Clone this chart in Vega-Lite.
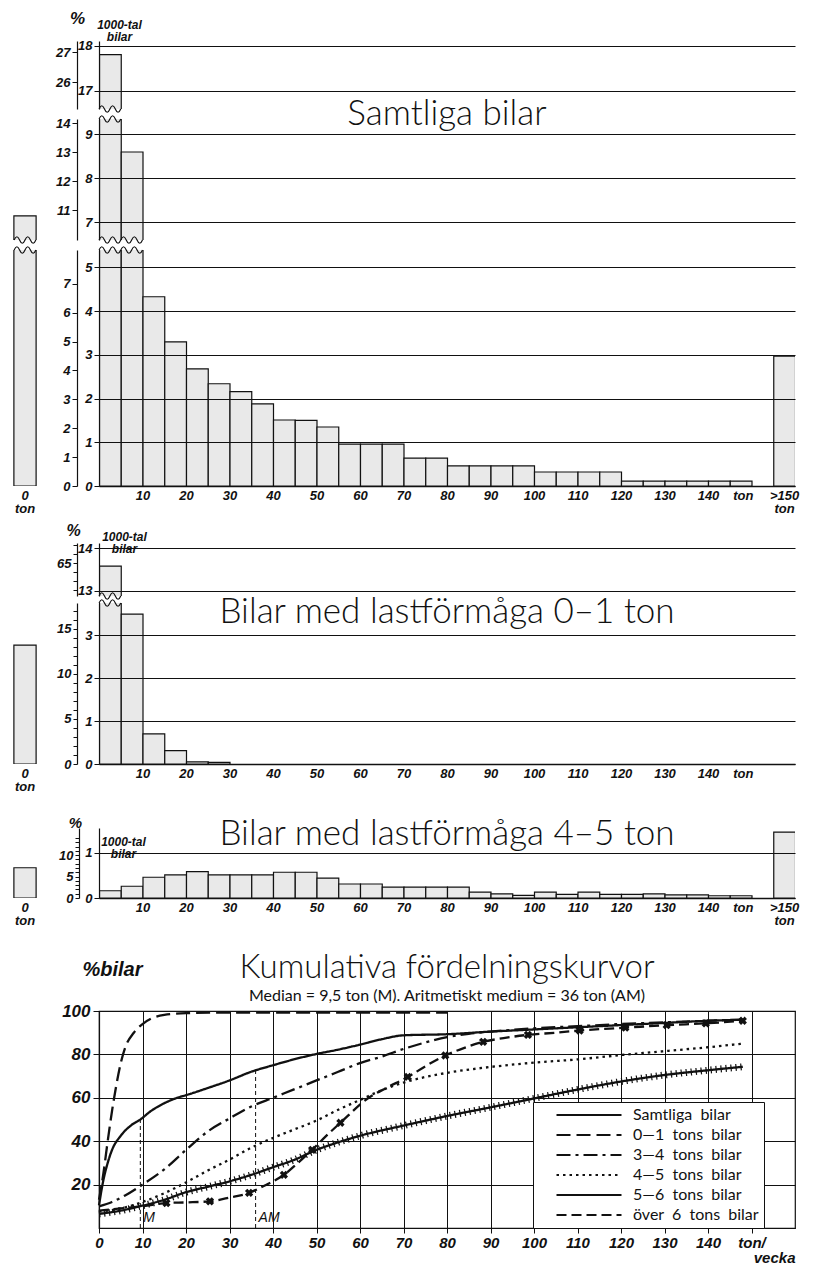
{
"$schema": "https://vega.github.io/schema/vega-lite/v6.json",
"background": "white",
"padding": {"left": 11, "top": 9, "right": 5, "bottom": 5},
"config": {
  "view": {"stroke": null},
  "axis": {"labelFont": "Liberation Sans", "labelFontStyle": "italic", "labelFontWeight": "bold", "labelColor": "#111",
           "titleFont": "Liberation Sans", "titleFontStyle": "italic", "titleFontWeight": "bold", "titleColor": "#111",
           "domainColor": "#111", "tickColor": "#111", "gridColor": "#111", "gridOpacity": 1, "labelOverlap": false, "labelFlush": false}
},
"datasets": {
  "one": [{"k": 1}],
  "p1": [
    {"lo":0,"hi":5,"v":17.8},{"lo":5,"hi":10,"v":8.6},{"lo":10,"hi":15,"v":4.33},{"lo":15,"hi":20,"v":3.3},
    {"lo":20,"hi":25,"v":2.68},{"lo":25,"hi":30,"v":2.34},{"lo":30,"hi":35,"v":2.16},{"lo":35,"hi":40,"v":1.88},
    {"lo":40,"hi":45,"v":1.51},{"lo":45,"hi":50,"v":1.5},{"lo":50,"hi":55,"v":1.35},{"lo":55,"hi":60,"v":0.96},
    {"lo":60,"hi":65,"v":0.96},{"lo":65,"hi":70,"v":0.96},{"lo":70,"hi":75,"v":0.64},{"lo":75,"hi":80,"v":0.64},
    {"lo":80,"hi":85,"v":0.46},{"lo":85,"hi":90,"v":0.46},{"lo":90,"hi":95,"v":0.46},{"lo":95,"hi":100,"v":0.46},
    {"lo":100,"hi":105,"v":0.32},{"lo":105,"hi":110,"v":0.32},{"lo":110,"hi":115,"v":0.32},{"lo":115,"hi":120,"v":0.32},
    {"lo":120,"hi":125,"v":0.11},{"lo":125,"hi":130,"v":0.11},{"lo":130,"hi":135,"v":0.11},{"lo":135,"hi":140,"v":0.11},
    {"lo":140,"hi":145,"v":0.11},{"lo":145,"hi":150,"v":0.11},{"lo":155,"hi":160,"v":2.97}
  ],
  "p1z": [{"cat":"0 ton","v":7.15}],
  "p2": [
    {"lo":0,"hi":5,"v":13.58},{"lo":5,"hi":10,"v":3.49},{"lo":10,"hi":15,"v":0.7},{"lo":15,"hi":20,"v":0.31},
    {"lo":20,"hi":25,"v":0.05},{"lo":25,"hi":30,"v":0.04}
  ],
  "p2z": [{"cat":"0 ton","v":2.77}],
  "p3": [
    {"lo":0,"hi":5,"v":0.16},{"lo":5,"hi":10,"v":0.26},{"lo":10,"hi":15,"v":0.46},{"lo":15,"hi":20,"v":0.51},
    {"lo":20,"hi":25,"v":0.585},{"lo":25,"hi":30,"v":0.51},{"lo":30,"hi":35,"v":0.51},{"lo":35,"hi":40,"v":0.51},
    {"lo":40,"hi":45,"v":0.57},{"lo":45,"hi":50,"v":0.57},{"lo":50,"hi":55,"v":0.44},{"lo":55,"hi":60,"v":0.31},
    {"lo":60,"hi":65,"v":0.31},{"lo":65,"hi":70,"v":0.24},{"lo":70,"hi":75,"v":0.24},{"lo":75,"hi":80,"v":0.24},
    {"lo":80,"hi":85,"v":0.24},{"lo":85,"hi":90,"v":0.13},{"lo":90,"hi":95,"v":0.09},{"lo":95,"hi":100,"v":0.06},
    {"lo":100,"hi":105,"v":0.13},{"lo":105,"hi":110,"v":0.08},{"lo":110,"hi":115,"v":0.13},{"lo":115,"hi":120,"v":0.08},
    {"lo":120,"hi":125,"v":0.08},{"lo":125,"hi":130,"v":0.09},{"lo":130,"hi":135,"v":0.07},{"lo":135,"hi":140,"v":0.07},
    {"lo":140,"hi":145,"v":0.05},{"lo":145,"hi":150,"v":0.05},{"lo":155,"hi":160,"v":1.46}
  ],
  "p3z": [{"cat":"0 ton","v":0.67}],
  "cum": [
    {"series":"Samtliga bilar","ton":0,"pct":10.5},{"series":"Samtliga bilar","ton":1,"pct":22},{"series":"Samtliga bilar","ton":2,"pct":30},
    {"series":"Samtliga bilar","ton":3,"pct":36},{"series":"Samtliga bilar","ton":5,"pct":42.5},{"series":"Samtliga bilar","ton":7.5,"pct":47.5},
    {"series":"Samtliga bilar","ton":9.5,"pct":50},{"series":"Samtliga bilar","ton":12,"pct":54},{"series":"Samtliga bilar","ton":15,"pct":57.5},
    {"series":"Samtliga bilar","ton":18,"pct":60},{"series":"Samtliga bilar","ton":20,"pct":61.2},{"series":"Samtliga bilar","ton":25,"pct":64.5},
    {"series":"Samtliga bilar","ton":30,"pct":68},{"series":"Samtliga bilar","ton":35,"pct":72},{"series":"Samtliga bilar","ton":40,"pct":75},
    {"series":"Samtliga bilar","ton":45,"pct":77.8},{"series":"Samtliga bilar","ton":50,"pct":80.2},{"series":"Samtliga bilar","ton":55,"pct":82.2},
    {"series":"Samtliga bilar","ton":60,"pct":84.5},{"series":"Samtliga bilar","ton":65,"pct":87},{"series":"Samtliga bilar","ton":70,"pct":88.8},
    {"series":"Samtliga bilar","ton":80,"pct":89.3},{"series":"Samtliga bilar","ton":90,"pct":90.5},{"series":"Samtliga bilar","ton":100,"pct":91.5},
    {"series":"Samtliga bilar","ton":110,"pct":92.5},{"series":"Samtliga bilar","ton":120,"pct":93.5},{"series":"Samtliga bilar","ton":130,"pct":94.5},
    {"series":"Samtliga bilar","ton":140,"pct":95.5},{"series":"Samtliga bilar","ton":148,"pct":96},
    {"series":"0—1 tons bilar","ton":0,"pct":13},{"series":"0—1 tons bilar","ton":1,"pct":25},{"series":"0—1 tons bilar","ton":2,"pct":40},
    {"series":"0—1 tons bilar","ton":3,"pct":54},{"series":"0—1 tons bilar","ton":4,"pct":66},{"series":"0—1 tons bilar","ton":5,"pct":76},
    {"series":"0—1 tons bilar","ton":6,"pct":83},{"series":"0—1 tons bilar","ton":8,"pct":90},{"series":"0—1 tons bilar","ton":10,"pct":94},
    {"series":"0—1 tons bilar","ton":12,"pct":96.5},{"series":"0—1 tons bilar","ton":15,"pct":98.2},{"series":"0—1 tons bilar","ton":20,"pct":99},
    {"series":"0—1 tons bilar","ton":30,"pct":99.3},{"series":"0—1 tons bilar","ton":50,"pct":99.3},{"series":"0—1 tons bilar","ton":80,"pct":99.3},
    {"series":"3—4 tons bilar","ton":0,"pct":10},{"series":"3—4 tons bilar","ton":3,"pct":12},{"series":"3—4 tons bilar","ton":6,"pct":15},
    {"series":"3—4 tons bilar","ton":10,"pct":20},{"series":"3—4 tons bilar","ton":15,"pct":27},{"series":"3—4 tons bilar","ton":20,"pct":36},
    {"series":"3—4 tons bilar","ton":25,"pct":44.5},{"series":"3—4 tons bilar","ton":30,"pct":50.5},{"series":"3—4 tons bilar","ton":35,"pct":56},
    {"series":"3—4 tons bilar","ton":40,"pct":60},{"series":"3—4 tons bilar","ton":45,"pct":64},{"series":"3—4 tons bilar","ton":50,"pct":68},
    {"series":"3—4 tons bilar","ton":55,"pct":72},{"series":"3—4 tons bilar","ton":60,"pct":76},{"series":"3—4 tons bilar","ton":65,"pct":79},
    {"series":"3—4 tons bilar","ton":70,"pct":82.5},{"series":"3—4 tons bilar","ton":75,"pct":85.5},{"series":"3—4 tons bilar","ton":80,"pct":88},
    {"series":"3—4 tons bilar","ton":85,"pct":89.5},{"series":"3—4 tons bilar","ton":90,"pct":90.5},{"series":"3—4 tons bilar","ton":100,"pct":92},
    {"series":"3—4 tons bilar","ton":110,"pct":93},{"series":"3—4 tons bilar","ton":120,"pct":94},{"series":"3—4 tons bilar","ton":130,"pct":94.8},
    {"series":"3—4 tons bilar","ton":140,"pct":95.5},{"series":"3—4 tons bilar","ton":148,"pct":96},
    {"series":"4—5 tons bilar","ton":0,"pct":7.5},{"series":"4—5 tons bilar","ton":5,"pct":9},{"series":"4—5 tons bilar","ton":10,"pct":12},
    {"series":"4—5 tons bilar","ton":15,"pct":16},{"series":"4—5 tons bilar","ton":20,"pct":21},{"series":"4—5 tons bilar","ton":25,"pct":26.5},
    {"series":"4—5 tons bilar","ton":30,"pct":31.5},{"series":"4—5 tons bilar","ton":35,"pct":37},{"series":"4—5 tons bilar","ton":40,"pct":41.5},
    {"series":"4—5 tons bilar","ton":45,"pct":45.5},{"series":"4—5 tons bilar","ton":50,"pct":49.5},{"series":"4—5 tons bilar","ton":55,"pct":54.5},
    {"series":"4—5 tons bilar","ton":60,"pct":59},{"series":"4—5 tons bilar","ton":65,"pct":63.5},{"series":"4—5 tons bilar","ton":70,"pct":67},
    {"series":"4—5 tons bilar","ton":80,"pct":71.5},{"series":"4—5 tons bilar","ton":90,"pct":74.2},{"series":"4—5 tons bilar","ton":100,"pct":76.2},
    {"series":"4—5 tons bilar","ton":110,"pct":77.7},{"series":"4—5 tons bilar","ton":120,"pct":79.7},{"series":"4—5 tons bilar","ton":130,"pct":81.5},
    {"series":"4—5 tons bilar","ton":140,"pct":83.3},{"series":"4—5 tons bilar","ton":148,"pct":85},
    {"series":"5—6 tons bilar","ton":0,"pct":6.5},{"series":"5—6 tons bilar","ton":5,"pct":8},{"series":"5—6 tons bilar","ton":10,"pct":10.3},
    {"series":"5—6 tons bilar","ton":15,"pct":13},{"series":"5—6 tons bilar","ton":20,"pct":16.5},{"series":"5—6 tons bilar","ton":25,"pct":19},
    {"series":"5—6 tons bilar","ton":30,"pct":21.5},{"series":"5—6 tons bilar","ton":35,"pct":24.5},{"series":"5—6 tons bilar","ton":40,"pct":28},
    {"series":"5—6 tons bilar","ton":45,"pct":31.5},{"series":"5—6 tons bilar","ton":50,"pct":36},{"series":"5—6 tons bilar","ton":55,"pct":39.5},
    {"series":"5—6 tons bilar","ton":60,"pct":42.5},{"series":"5—6 tons bilar","ton":70,"pct":47.2},{"series":"5—6 tons bilar","ton":80,"pct":51.6},
    {"series":"5—6 tons bilar","ton":90,"pct":55.6},{"series":"5—6 tons bilar","ton":100,"pct":59.7},{"series":"5—6 tons bilar","ton":110,"pct":63.8},
    {"series":"5—6 tons bilar","ton":120,"pct":67.5},{"series":"5—6 tons bilar","ton":130,"pct":70.5},{"series":"5—6 tons bilar","ton":140,"pct":72.7},
    {"series":"5—6 tons bilar","ton":148,"pct":74.3},
    {"series":"över 6 tons bilar","ton":0,"pct":8},{"series":"över 6 tons bilar","ton":5,"pct":9},{"series":"över 6 tons bilar","ton":10,"pct":10},
    {"series":"över 6 tons bilar","ton":15.5,"pct":11.5},{"series":"över 6 tons bilar","ton":20,"pct":11.8},{"series":"över 6 tons bilar","ton":25.5,"pct":12.3},
    {"series":"över 6 tons bilar","ton":30,"pct":14},{"series":"över 6 tons bilar","ton":34.5,"pct":16.2},{"series":"över 6 tons bilar","ton":38,"pct":19.5},
    {"series":"över 6 tons bilar","ton":42.5,"pct":24.5},{"series":"över 6 tons bilar","ton":46,"pct":30.5},{"series":"över 6 tons bilar","ton":49,"pct":36},
    {"series":"över 6 tons bilar","ton":52,"pct":42},{"series":"över 6 tons bilar","ton":55.5,"pct":48.5},{"series":"över 6 tons bilar","ton":62,"pct":60},
    {"series":"över 6 tons bilar","ton":66,"pct":64.5},{"series":"över 6 tons bilar","ton":71,"pct":69.6},{"series":"över 6 tons bilar","ton":75,"pct":74.5},
    {"series":"över 6 tons bilar","ton":79.6,"pct":79.5},{"series":"över 6 tons bilar","ton":84,"pct":83},{"series":"över 6 tons bilar","ton":88.3,"pct":85.8},
    {"series":"över 6 tons bilar","ton":93,"pct":87.5},{"series":"över 6 tons bilar","ton":98.6,"pct":89},{"series":"över 6 tons bilar","ton":105,"pct":90},
    {"series":"över 6 tons bilar","ton":110.5,"pct":91},{"series":"över 6 tons bilar","ton":121,"pct":92.3},{"series":"över 6 tons bilar","ton":130.5,"pct":93.5},
    {"series":"över 6 tons bilar","ton":139.5,"pct":94.3},{"series":"över 6 tons bilar","ton":148,"pct":95.5}
  ],
  "o6m": [
    {"ton":15.5,"pct":11.5},{"ton":25.5,"pct":12.3},{"ton":34.5,"pct":16.2},{"ton":42.5,"pct":24.5},{"ton":49,"pct":36},
    {"ton":55.5,"pct":48.5},{"ton":71,"pct":69.6},{"ton":79.6,"pct":79.5},{"ton":88.3,"pct":85.8},{"ton":98.6,"pct":89},
    {"ton":110.5,"pct":91},{"ton":121,"pct":92.3},{"ton":130.5,"pct":93.5},{"ton":139.5,"pct":94.3},{"ton":148,"pct":95.5}
  ],
  "ann": [{"lab":"M","ton":9.5,"top":50,"bottom":0},{"lab":"AM","ton":36,"top":73,"bottom":0}]
},
"vconcat": [
 {"vconcat": [
  {"concat": [
   {"width": 24, "height": 68, "data": {"name": "p1z"},
    "mark": {"type": "bar", "clip": true, "fill": "#e9e9e9", "stroke": "#111", "strokeWidth": 1.2},
    "encoding": {"x": {"field": "cat", "type": "nominal", "scale": {"paddingInner": 0, "paddingOuter": 0.04}, "axis": null},
                 "y": {"field": "v", "type": "quantitative", "scale": {"domain": [16.6, 18.1], "nice": false, "zero": false, "padding": 0}, "axis": null}}},
   {"width": 696, "height": 68,
    "layer": [
     {"data": {"name": "p1"}, "mark": {"type": "bar", "clip": true, "binSpacing": 0, "fill": "#e9e9e9", "stroke": "#111", "strokeWidth": 1.2},
      "encoding": {
       "x": {"field": "lo", "type": "quantitative", "bin": {"binned": true}, "scale": {"domain": [0, 160], "nice": false, "zero": false, "padding": 0}, "axis": null},
       "x2": {"field": "hi"},
       "y": {"field": "v", "type": "quantitative", "scale": {"domain": [16.6, 18.1], "nice": false, "zero": false, "padding": 0},
             "axis": {"orient": "left", "values": [17, 18], "format": "d", "grid": true, "gridWidth": 1.1, "zindex": 1, "tickSize": 5, "labelFontSize": 13, "labelPadding": 2, "domainWidth": 1.2,
                      "title": ["1000-tal", "bilar"], "titleAngle": 0, "titleAlign": "center", "titleBaseline": "bottom", "titleX": 20, "titleY": -10, "titleFontSize": 12, "titleLineHeight": 12}}}},
     {"data": {"name": "p1"}, "mark": {"type": "point", "opacity": 0, "clip": true},
      "encoding": {"y": {"field": "v", "type": "quantitative", "scale": {"domain": [16.6, 18.1], "nice": false, "zero": false, "padding": 0},
        "axis": {"orient": "left", "offset": 22, "values": [17.186, 17.847], "labelExpr": "round(datum.value / 0.661)", "grid": false, "tickSize": 5, "labelFontSize": 13, "labelPadding": 2, "domainWidth": 1.2,
                 "title": "%", "titleAngle": 0, "titleAlign": "center", "titleBaseline": "bottom", "titleX": 0, "titleY": -14, "titleFontSize": 17}}}},
     {"data": {"name": "p1"}, "transform": [{"filter": "datum.v > 16.6"}],
      "mark": {"type": "point", "shape": "M-1,0C-0.83,-0.4,-0.67,-0.4,-0.5,0C-0.33,0.4,-0.17,0.4,0,0C0.17,-0.4,0.33,-0.4,0.5,0C0.67,0.4,0.83,0.4,1,0", "size": 470, "filled": false, "stroke": "#111", "strokeWidth": 1.2, "opacity": 1, "xOffset": 10.9},
      "encoding": {"x": {"field": "lo", "type": "quantitative", "axis": null}, "y": {"datum": 16.6, "type": "quantitative", "scale": {"domain": [16.6, 18.1], "nice": false, "zero": false, "padding": 0}, "axis": null}}}
    ],
    "resolve": {"scale": {"y": "independent"}}},
   {"width": 24, "height": 121, "data": {"name": "p1z"},
    "layer": [
     {"mark": {"type": "bar", "clip": true, "fill": "#e9e9e9", "stroke": "#111", "strokeWidth": 1.2},
      "encoding": {"x": {"field": "cat", "type": "nominal", "scale": {"paddingInner": 0, "paddingOuter": 0.04}, "axis": null},
                   "y": {"field": "v", "type": "quantitative", "scale": {"domain": [6.6, 9.35], "nice": false, "zero": false, "padding": 0}, "axis": null}}},
     {"mark": {"type": "point", "shape": "M-1,0C-0.83,-0.4,-0.67,-0.4,-0.5,0C-0.33,0.4,-0.17,0.4,0,0C0.17,-0.4,0.33,-0.4,0.5,0C0.67,0.4,0.83,0.4,1,0", "size": 470, "filled": false, "stroke": "#111", "strokeWidth": 1.2, "opacity": 1},
      "encoding": {"x": {"field": "cat", "type": "nominal", "axis": null}, "y": {"datum": 6.6, "type": "quantitative", "axis": null}}}
    ]},
   {"width": 696, "height": 121,
    "layer": [
     {"data": {"name": "p1"}, "mark": {"type": "bar", "clip": true, "binSpacing": 0, "fill": "#e9e9e9", "stroke": "#111", "strokeWidth": 1.2},
      "encoding": {
       "x": {"field": "lo", "type": "quantitative", "bin": {"binned": true}, "scale": {"domain": [0, 160], "nice": false, "zero": false, "padding": 0}, "axis": null},
       "x2": {"field": "hi"},
       "y": {"field": "v", "type": "quantitative", "scale": {"domain": [6.6, 9.35], "nice": false, "zero": false, "padding": 0},
             "axis": {"orient": "left", "values": [7, 8, 9], "format": "d", "grid": true, "gridWidth": 1.1, "zindex": 1, "tickSize": 5, "labelFontSize": 13, "labelPadding": 2, "domainWidth": 1.2, "title": null}}}},
     {"data": {"name": "p1"}, "mark": {"type": "point", "opacity": 0, "clip": true},
      "encoding": {"y": {"field": "v", "type": "quantitative", "scale": {"domain": [6.6, 9.35], "nice": false, "zero": false, "padding": 0},
        "axis": {"orient": "left", "offset": 22, "values": [7.271, 7.932, 8.593, 9.254], "labelExpr": "round(datum.value / 0.661)", "grid": false, "tickSize": 5, "labelFontSize": 13, "labelPadding": 2, "domainWidth": 1.2, "title": null}}}},
     {"data": {"name": "p1"}, "transform": [{"filter": "datum.v > 9.35"}],
      "mark": {"type": "point", "shape": "M-1,0C-0.83,-0.4,-0.67,-0.4,-0.5,0C-0.33,0.4,-0.17,0.4,0,0C0.17,-0.4,0.33,-0.4,0.5,0C0.67,0.4,0.83,0.4,1,0", "size": 470, "filled": false, "stroke": "#111", "strokeWidth": 1.2, "opacity": 1, "xOffset": 10.9},
      "encoding": {"x": {"field": "lo", "type": "quantitative", "axis": null}, "y": {"datum": 9.35, "type": "quantitative", "scale": {"domain": [6.6, 9.35], "nice": false, "zero": false, "padding": 0}, "axis": null}}},
     {"data": {"name": "p1"}, "transform": [{"filter": "datum.v > 6.6 && datum.lo < 150"}],
      "mark": {"type": "point", "shape": "M-1,0C-0.83,-0.4,-0.67,-0.4,-0.5,0C-0.33,0.4,-0.17,0.4,0,0C0.17,-0.4,0.33,-0.4,0.5,0C0.67,0.4,0.83,0.4,1,0", "size": 470, "filled": false, "stroke": "#111", "strokeWidth": 1.2, "opacity": 1, "xOffset": 10.9},
      "encoding": {"x": {"field": "lo", "type": "quantitative", "axis": null}, "y": {"datum": 6.6, "type": "quantitative", "scale": {"domain": [6.6, 9.35], "nice": false, "zero": false, "padding": 0}, "axis": null}}},
     {"data": {"name": "one"}, "mark": {"type": "text", "text": "Samtliga bilar", "font": "Lato", "fontWeight": 300, "fontSize": 35, "color": "#111", "baseline": "middle", "align": "center"},
      "encoding": {"x": {"datum": 80, "type": "quantitative"}, "y": {"datum": 9.46, "type": "quantitative", "scale": {"domain": [6.6, 9.35], "nice": false, "zero": false, "padding": 0}, "axis": null}}}
    ],
    "resolve": {"scale": {"y": "independent"}}},
   {"width": 24, "height": 236, "data": {"name": "p1z"},
    "layer": [
     {"mark": {"type": "bar", "clip": true, "fill": "#e9e9e9", "stroke": "#111", "strokeWidth": 1.2},
      "encoding": {"x": {"field": "cat", "type": "nominal", "scale": {"paddingInner": 0, "paddingOuter": 0.04},
                         "axis": {"labelExpr": "['0', 'ton']", "ticks": false, "domain": false, "title": null, "labelAngle": 0, "labelFontSize": 13, "labelPadding": 3, "labelLineHeight": 13}},
                   "y": {"field": "v", "type": "quantitative", "scale": {"domain": [0, 5.4], "nice": false, "zero": false, "padding": 0}, "axis": null}}},
     {"mark": {"type": "point", "shape": "M-1,0C-0.83,-0.4,-0.67,-0.4,-0.5,0C-0.33,0.4,-0.17,0.4,0,0C0.17,-0.4,0.33,-0.4,0.5,0C0.67,0.4,0.83,0.4,1,0", "size": 470, "filled": false, "stroke": "#111", "strokeWidth": 1.2, "opacity": 1},
      "encoding": {"x": {"field": "cat", "type": "nominal"}, "y": {"datum": 5.4, "type": "quantitative", "axis": null}}}
    ]},
   {"width": 696, "height": 236,
    "layer": [
     {"data": {"name": "p1"}, "mark": {"type": "bar", "clip": true, "binSpacing": 0, "fill": "#e9e9e9", "stroke": "#111", "strokeWidth": 1.2},
      "encoding": {
       "x": {"field": "lo", "type": "quantitative", "bin": {"binned": true}, "scale": {"domain": [0, 160], "nice": false, "zero": false, "padding": 0},
             "axis": {"values": [10,20,30,40,50,60,70,80,90,100,110,120,130,140,148,157.5], "labelExpr": "datum.value == 157.5 ? ['>150', 'ton'] : datum.value == 148 ? 'ton' : datum.label",
                      "ticks": false, "grid": false, "title": null, "domainWidth": 1.3, "labelFontSize": 13, "labelPadding": 3, "labelLineHeight": 13}},
       "x2": {"field": "hi"},
       "y": {"field": "v", "type": "quantitative", "scale": {"domain": [0, 5.4], "nice": false, "zero": false, "padding": 0},
             "axis": {"orient": "left", "values": [0, 1, 2, 3, 4, 5], "format": "d", "grid": true, "gridWidth": 1.1, "zindex": 1, "tickSize": 5, "labelFontSize": 13, "labelPadding": 2, "domainWidth": 1.2, "title": null}}}},
     {"data": {"name": "p1"}, "mark": {"type": "point", "opacity": 0, "clip": true},
      "encoding": {"y": {"field": "v", "type": "quantitative", "scale": {"domain": [0, 5.4], "nice": false, "zero": false, "padding": 0},
        "axis": {"orient": "left", "offset": 22, "values": [0, 0.661, 1.322, 1.983, 2.644, 3.305, 3.966, 4.627], "labelExpr": "round(datum.value / 0.661)", "grid": false, "tickSize": 5, "labelFontSize": 13, "labelPadding": 2, "domainWidth": 1.2, "title": null}}}},
     {"data": {"name": "p1"}, "transform": [{"filter": "datum.v > 5.4"}],
      "mark": {"type": "point", "shape": "M-1,0C-0.83,-0.4,-0.67,-0.4,-0.5,0C-0.33,0.4,-0.17,0.4,0,0C0.17,-0.4,0.33,-0.4,0.5,0C0.67,0.4,0.83,0.4,1,0", "size": 470, "filled": false, "stroke": "#111", "strokeWidth": 1.2, "opacity": 1, "xOffset": 10.9},
      "encoding": {"x": {"field": "lo", "type": "quantitative"}, "y": {"datum": 5.4, "type": "quantitative", "scale": {"domain": [0, 5.4], "nice": false, "zero": false, "padding": 0}, "axis": null}}}
    ],
    "resolve": {"scale": {"y": "independent"}}}
  ], "columns": 2, "spacing": {"row": 10, "column": 62}, "bounds": "flush", "align": "each"},
  {"concat": [
   {"width": 24, "height": 53, "data": {"name": "p2z"},
    "mark": {"type": "bar", "clip": true, "fill": "#e9e9e9", "stroke": "#111", "strokeWidth": 1.2},
    "encoding": {"x": {"field": "cat", "type": "nominal", "scale": {"paddingInner": 0, "paddingOuter": 0.04}, "axis": null},
                 "y": {"field": "v", "type": "quantitative", "scale": {"domain": [12.88, 14.12], "nice": false, "zero": false, "padding": 0}, "axis": null}}},
   {"width": 696, "height": 53,
    "layer": [
     {"data": {"name": "p2"}, "mark": {"type": "bar", "clip": true, "binSpacing": 0, "fill": "#e9e9e9", "stroke": "#111", "strokeWidth": 1.2},
      "encoding": {
       "x": {"field": "lo", "type": "quantitative", "bin": {"binned": true}, "scale": {"domain": [0, 160], "nice": false, "zero": false, "padding": 0}, "axis": null},
       "x2": {"field": "hi"},
       "y": {"field": "v", "type": "quantitative", "scale": {"domain": [12.88, 14.12], "nice": false, "zero": false, "padding": 0},
             "axis": {"orient": "left", "values": [13, 14], "format": "d", "grid": true, "gridWidth": 1.1, "zindex": 1, "tickSize": 5, "labelFontSize": 13, "labelPadding": 2, "domainWidth": 1.2,
                      "title": ["1000-tal", "bilar"], "titleAngle": 0, "titleAlign": "center", "titleBaseline": "bottom", "titleX": 25, "titleY": 0, "titleFontSize": 12, "titleLineHeight": 12}}}},
     {"data": {"name": "p2"}, "mark": {"type": "point", "opacity": 0, "clip": true},
      "encoding": {"y": {"field": "v", "type": "quantitative", "scale": {"domain": [12.88, 14.12], "nice": false, "zero": false, "padding": 0},
        "axis": {"orient": "left", "offset": 22, "values": [13.02, 13.23, 13.44, 13.65, 13.86, 14.07], "labelExpr": "round(datum.value / 0.21) % 5 == 0 ? round(datum.value / 0.21) : ''", "grid": false, "tickSize": 4, "labelFontSize": 13, "labelPadding": 2, "domainWidth": 1.2,
                 "title": "%", "titleAngle": 0, "titleAlign": "center", "titleBaseline": "bottom", "titleX": -4, "titleY": -5, "titleFontSize": 16}}}},
     {"data": {"name": "p2"}, "transform": [{"filter": "datum.v > 12.88"}],
      "mark": {"type": "point", "shape": "M-1,0C-0.83,-0.4,-0.67,-0.4,-0.5,0C-0.33,0.4,-0.17,0.4,0,0C0.17,-0.4,0.33,-0.4,0.5,0C0.67,0.4,0.83,0.4,1,0", "size": 470, "filled": false, "stroke": "#111", "strokeWidth": 1.2, "opacity": 1, "xOffset": 10.9},
      "encoding": {"x": {"field": "lo", "type": "quantitative", "axis": null}, "y": {"datum": 12.88, "type": "quantitative", "scale": {"domain": [12.88, 14.12], "nice": false, "zero": false, "padding": 0}, "axis": null}}}
    ],
    "resolve": {"scale": {"y": "independent"}}},
   {"width": 24, "height": 161, "data": {"name": "p2z"},
    "mark": {"type": "bar", "clip": true, "fill": "#e9e9e9", "stroke": "#111", "strokeWidth": 1.2},
    "encoding": {"x": {"field": "cat", "type": "nominal", "scale": {"paddingInner": 0, "paddingOuter": 0.04},
                       "axis": {"labelExpr": "['0', 'ton']", "ticks": false, "domain": false, "title": null, "labelAngle": 0, "labelFontSize": 13, "labelPadding": 3, "labelLineHeight": 13}},
                 "y": {"field": "v", "type": "quantitative", "scale": {"domain": [0, 3.75], "nice": false, "zero": false, "padding": 0}, "axis": null}}},
   {"width": 696, "height": 161,
    "layer": [
     {"data": {"name": "p2"}, "mark": {"type": "bar", "clip": true, "binSpacing": 0, "fill": "#e9e9e9", "stroke": "#111", "strokeWidth": 1.2},
      "encoding": {
       "x": {"field": "lo", "type": "quantitative", "bin": {"binned": true}, "scale": {"domain": [0, 160], "nice": false, "zero": false, "padding": 0},
             "axis": {"values": [10,20,30,40,50,60,70,80,90,100,110,120,130,140,148], "labelExpr": "datum.value == 148 ? 'ton' : datum.label",
                      "ticks": false, "grid": false, "title": null, "domainWidth": 1.3, "labelFontSize": 13, "labelPadding": 3, "labelLineHeight": 13}},
       "x2": {"field": "hi"},
       "y": {"field": "v", "type": "quantitative", "scale": {"domain": [0, 3.75], "nice": false, "zero": false, "padding": 0},
             "axis": {"orient": "left", "values": [0, 1, 2, 3], "format": "d", "grid": true, "gridWidth": 1.1, "zindex": 1, "tickSize": 5, "labelFontSize": 13, "labelPadding": 2, "domainWidth": 1.2, "title": null}}}},
     {"data": {"name": "p2"}, "mark": {"type": "point", "opacity": 0, "clip": true},
      "encoding": {"y": {"field": "v", "type": "quantitative", "scale": {"domain": [0, 3.75], "nice": false, "zero": false, "padding": 0},
        "axis": {"orient": "left", "offset": 22, "values": [0,0.21,0.42,0.63,0.84,1.05,1.26,1.47,1.68,1.89,2.1,2.31,2.52,2.73,2.94,3.15,3.36,3.57], "labelExpr": "round(datum.value / 0.21) % 5 == 0 ? round(datum.value / 0.21) : ''", "grid": false, "tickSize": 4, "labelFontSize": 13, "labelPadding": 2, "domainWidth": 1.2, "title": null}}}},
     {"data": {"name": "p2"}, "transform": [{"filter": "datum.v > 3.75"}],
      "mark": {"type": "point", "shape": "M-1,0C-0.83,-0.4,-0.67,-0.4,-0.5,0C-0.33,0.4,-0.17,0.4,0,0C0.17,-0.4,0.33,-0.4,0.5,0C0.67,0.4,0.83,0.4,1,0", "size": 470, "filled": false, "stroke": "#111", "strokeWidth": 1.2, "opacity": 1, "xOffset": 10.9},
      "encoding": {"x": {"field": "lo", "type": "quantitative"}, "y": {"datum": 3.75, "type": "quantitative", "scale": {"domain": [0, 3.75], "nice": false, "zero": false, "padding": 0}, "axis": null}}},
     {"data": {"name": "one"}, "mark": {"type": "text", "text": "Bilar med lastförmåga 0–1 ton", "font": "Lato", "fontWeight": 300, "fontSize": 35, "color": "#111", "baseline": "middle", "align": "center"},
      "encoding": {"x": {"datum": 80, "type": "quantitative"}, "y": {"datum": 3.53, "type": "quantitative", "scale": {"domain": [0, 3.75], "nice": false, "zero": false, "padding": 0}, "axis": null}}}
    ],
    "resolve": {"scale": {"y": "independent"}}}
  ], "columns": 2, "spacing": {"row": 7, "column": 62}, "bounds": "flush", "align": "each"}
 ], "spacing": 7},
 {"vconcat": [
  {"concat": [
   {"width": 24, "height": 70, "data": {"name": "p3z"},
    "mark": {"type": "bar", "clip": true, "fill": "#e9e9e9", "stroke": "#111", "strokeWidth": 1.2},
    "encoding": {"x": {"field": "cat", "type": "nominal", "scale": {"paddingInner": 0, "paddingOuter": 0.04},
                       "axis": {"labelExpr": "['0', 'ton']", "ticks": false, "domain": false, "title": null, "labelAngle": 0, "labelFontSize": 13, "labelPadding": 3, "labelLineHeight": 13}},
                 "y": {"field": "v", "type": "quantitative", "scale": {"domain": [0, 1.55], "nice": false, "zero": false, "padding": 0}, "axis": null}}},
   {"width": 696, "height": 70,
    "layer": [
     {"data": {"name": "p3"}, "mark": {"type": "bar", "clip": true, "binSpacing": 0, "fill": "#e9e9e9", "stroke": "#111", "strokeWidth": 1.2},
      "encoding": {
       "x": {"field": "lo", "type": "quantitative", "bin": {"binned": true}, "scale": {"domain": [0, 160], "nice": false, "zero": false, "padding": 0},
             "axis": {"values": [10,20,30,40,50,60,70,80,90,100,110,120,130,140,148,157.5], "labelExpr": "datum.value == 157.5 ? ['>150', 'ton'] : datum.value == 148 ? 'ton' : datum.label",
                      "ticks": false, "grid": false, "title": null, "domainWidth": 1.3, "labelFontSize": 13, "labelPadding": 3, "labelLineHeight": 13}},
       "x2": {"field": "hi"},
       "y": {"field": "v", "type": "quantitative", "scale": {"domain": [0, 1.55], "nice": false, "zero": false, "padding": 0},
             "axis": {"orient": "left", "values": [0, 1], "format": "d", "grid": true, "gridWidth": 1.1, "zindex": 1, "tickSize": 5, "labelFontSize": 13, "labelPadding": 2, "domainWidth": 1.2,
                      "title": ["1000-tal", "bilar"], "titleAngle": 0, "titleAlign": "center", "titleBaseline": "bottom", "titleX": 24, "titleY": 20, "titleFontSize": 12, "titleLineHeight": 12}}}},
     {"data": {"name": "p3"}, "mark": {"type": "point", "opacity": 0, "clip": true},
      "encoding": {"y": {"field": "v", "type": "quantitative", "scale": {"domain": [0, 1.55], "nice": false, "zero": false, "padding": 0},
        "axis": {"orient": "left", "offset": 20, "values": [0,0.095,0.19,0.285,0.38,0.475,0.57,0.665,0.76,0.855,0.95,1.045,1.14,1.235,1.33], "labelExpr": "round(datum.value / 0.095) % 5 == 0 ? round(datum.value / 0.095) : ''", "grid": false, "tickSize": 4, "labelFontSize": 13, "labelPadding": 2, "domainWidth": 1.2,
                 "title": "%", "titleAngle": 0, "titleAlign": "center", "titleBaseline": "bottom", "titleX": -4, "titleY": 2, "titleFontSize": 15}}}},
     {"data": {"name": "one"}, "mark": {"type": "text", "text": "Bilar med lastförmåga 4–5 ton", "font": "Lato", "fontWeight": 300, "fontSize": 35, "color": "#111", "baseline": "middle", "align": "center"},
      "encoding": {"x": {"datum": 80, "type": "quantitative"}, "y": {"datum": 1.42, "type": "quantitative", "scale": {"domain": [0, 1.55], "nice": false, "zero": false, "padding": 0}, "axis": null}}}
    ],
    "resolve": {"scale": {"y": "independent"}}}
  ], "columns": 2, "spacing": {"row": 0, "column": 62}, "bounds": "flush", "align": "each"},
  {"concat": [
   {"width": 24, "height": 217, "data": {"name": "one"}, "mark": {"type": "point", "opacity": 0},
    "encoding": {"y": {"field": "k", "type": "quantitative", "axis": null}}},
   {"width": 696, "height": 217,
    "view": {"stroke": "#111", "strokeWidth": 1.2},
    "title": {"text": "Kumulativa fördelningskurvor", "subtitle": "Median = 9,5 ton (M). Aritmetiskt medium = 36 ton (AM)", "anchor": "middle", "frame": "group",
              "font": "Lato", "fontWeight": 300, "fontSize": 33, "color": "#111", "subtitleFont": "Lato", "subtitleFontSize": 16, "subtitleColor": "#111", "subtitlePadding": 3, "offset": -45},
    "layer": [
     {"data": {"name": "ann"}, "mark": {"type": "rule", "strokeDash": [4, 3], "strokeWidth": 1, "color": "#111"},
      "encoding": {"x": {"field": "ton", "type": "quantitative"}, "y": {"field": "bottom", "type": "quantitative"}, "y2": {"field": "top"}}},
     {"data": {"name": "ann"}, "mark": {"type": "text", "align": "left", "dx": 3, "dy": -10, "baseline": "middle", "font": "Liberation Sans", "fontStyle": "italic", "fontSize": 14, "color": "#111"},
      "encoding": {"x": {"field": "ton", "type": "quantitative"}, "y": {"field": "bottom", "type": "quantitative"}, "text": {"field": "lab"}}},
     {"data": {"name": "cum"}, "mark": {"type": "line", "interpolate": "monotone", "strokeWidth": 2.3, "color": "#111"},
      "encoding": {
       "x": {"field": "ton", "type": "quantitative", "scale": {"domain": [0, 160], "nice": false, "zero": false, "padding": 0},
             "axis": {"values": [0,10,20,30,40,50,60,70,80,90,100,110,120,130,140,150], "labelExpr": "datum.value == 150 ? 'ton/' : datum.label", "grid": true, "gridWidth": 1, "tickSize": 5,
                      "labelFontSize": 15, "labelPadding": 2, "domainWidth": 1.2, "title": "vecka", "titleAnchor": "end", "titleFontSize": 15, "titlePadding": 0}},
       "y": {"field": "pct", "type": "quantitative", "scale": {"domain": [0, 100], "nice": false, "padding": 0},
             "axis": {"values": [20, 40, 60, 80, 100], "grid": true, "gridWidth": 1, "tickSize": 6, "labelFontSize": 17, "labelPadding": 3, "domainWidth": 1.2,
                      "title": "%bilar", "titleAngle": 0, "titleAlign": "left", "titleBaseline": "middle", "titleX": -17, "titleY": -42, "titleFontSize": 20}},
       "strokeDash": {"field": "series", "type": "nominal",
         "scale": {"domain": ["Samtliga bilar", "0—1 tons bilar", "3—4 tons bilar", "4—5 tons bilar", "5—6 tons bilar", "över 6 tons bilar"],
                   "range": [[1, 0], [14, 6], [14, 5, 3, 5], [2.5, 4], [1, 0], [10, 5]]},
         "legend": {"orient": "none", "legendX": 520, "legendY": 1061, "title": null, "symbolType": "stroke", "symbolSize": 4225, "symbolStrokeWidth": 2.2,
                    "fillColor": "white", "strokeColor": "#111", "padding": 5, "symbolOffset": 17,
                    "labelExpr": "replace(replace(replace(datum.label, ' ', '\u00a0\u00a0'), ' ', '\u00a0\u00a0'), ' ', '\u00a0\u00a0')",
                    "clipHeight": 16, "rowPadding": 4, "labelOffset": 10, "labelFont": "Lato", "labelFontSize": 16, "labelColor": "#111", "labelLimit": 400}}
      }},
     {"data": {"name": "cum"}, "transform": [{"filter": "datum.series == '5—6 tons bilar'"}],
      "mark": {"type": "line", "interpolate": "monotone", "strokeWidth": 7, "strokeDash": [1.2, 3.8], "color": "#111"},
      "encoding": {"x": {"field": "ton", "type": "quantitative"}, "y": {"field": "pct", "type": "quantitative"}}},
     {"data": {"name": "o6m"}, "mark": {"type": "point", "shape": "cross", "angle": 45, "size": 70, "filled": true, "color": "#111", "opacity": 1},
      "encoding": {"x": {"field": "ton", "type": "quantitative"}, "y": {"field": "pct", "type": "quantitative"}}}
    ]}
  ], "columns": 2, "spacing": {"row": 0, "column": 62}, "bounds": "flush", "align": "each"}
 ], "spacing": 24}
],
"spacing": 22
}
